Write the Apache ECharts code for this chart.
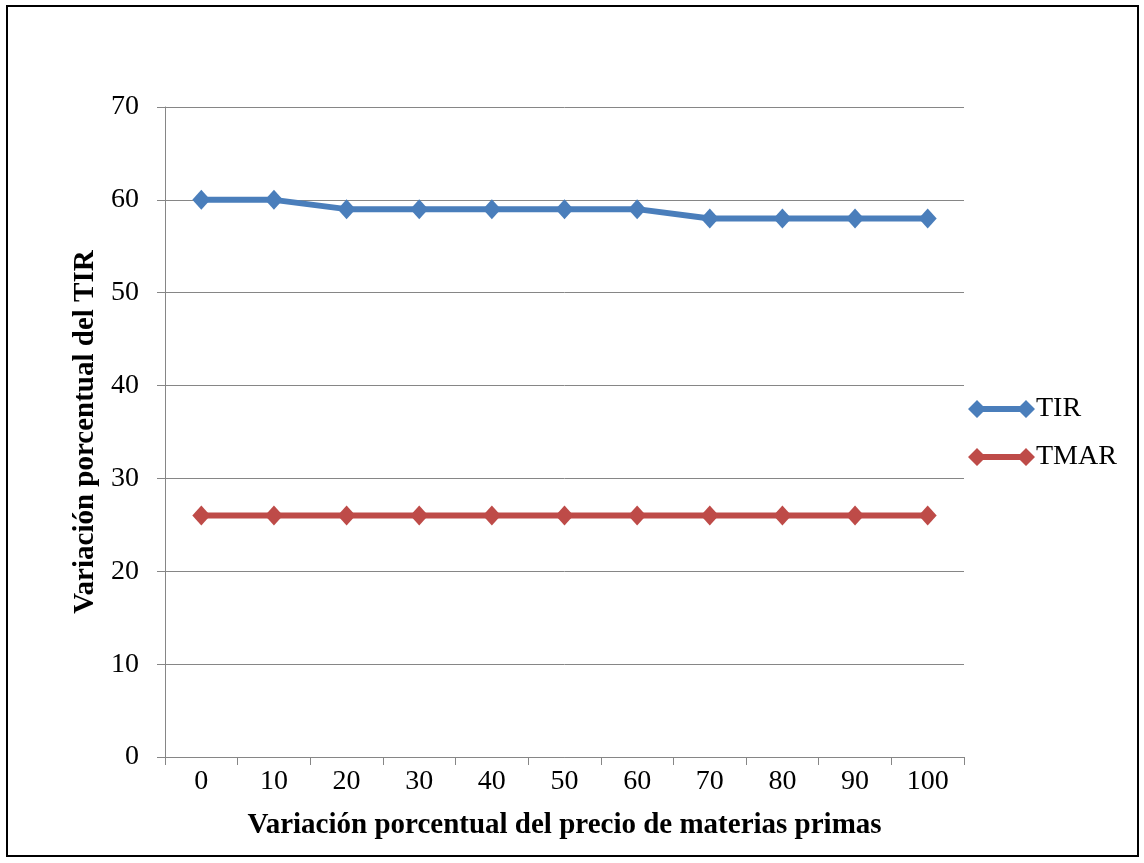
<!DOCTYPE html>
<html>
<head>
<meta charset="utf-8">
<script src="https://cdn.jsdelivr.net/npm/echarts@6/dist/echarts.min.js"></script>
<style>
  html, body { margin: 0; padding: 0; background: #fff; }
  #frame { position: absolute; left: 6px; top: 5px; width: 1133px; height: 852px; border: 2px solid #000; box-sizing: border-box; }
  #chart { position: absolute; left: 0; top: 0; width: 1144px; height: 863px; }
</style>
</head>
<body>
<div id="frame"></div>
<div id="chart"></div>
<script>
// Variación porcentual del precio de materias primas (%)
const categories = ['0', '10', '20', '30', '40', '50', '60', '70', '80', '90', '100'];
const tirValues  = [60, 60, 59, 59, 59, 59, 59, 58, 58, 58, 58];
const tmarValues = [26, 26, 26, 26, 26, 26, 26, 26, 26, 26, 26];

const FONT = '"Liberation Serif", "Times New Roman", serif';
// legend swatch: diamond – line – diamond
const legendIcon = 'path://M0,9L9,0L18,9L9,18Z M9,6H58V12H9Z M49,9L58,0L67,9L58,18Z';

const chart = echarts.init(document.getElementById('chart'), null, { renderer: 'canvas' });
chart.setOption({
  animation: false,
  backgroundColor: 'transparent',
  grid: { left: 165, right: 180, top: 107, bottom: 106, containLabel: false },
  legend: {
    orient: 'vertical',
    left: 968,
    top: 395,
    padding: 0,
    itemWidth: 67,
    itemHeight: 18,
    itemGap: 20,
    icon: legendIcon,
    textStyle: { fontFamily: FONT, fontSize: 28, lineHeight: 28, color: '#000', padding: [0, 0, 0, -4] },
    data: ['TIR', 'TMAR']
  },
  xAxis: {
    type: 'category',
    data: categories,
    boundaryGap: true,
    name: 'Variación porcentual del precio de materias primas',
    nameLocation: 'middle',
    nameGap: 54,
    nameTextStyle: { fontFamily: FONT, fontSize: 29, fontWeight: 'bold', color: '#000' },
    axisLine: { lineStyle: { color: '#868686', width: 1 } },
    axisTick: { show: true, length: 8, alignWithLabel: false, lineStyle: { color: '#868686' } },
    axisLabel: { fontFamily: FONT, fontSize: 28, color: '#000', margin: 11 },
    splitLine: { show: false }
  },
  yAxis: {
    type: 'value',
    min: 0,
    max: 70,
    interval: 10,
    name: 'Variación porcentual del TIR',
    nameLocation: 'middle',
    nameGap: 62,
    nameRotate: 90,
    nameTextStyle: { fontFamily: FONT, fontSize: 29, fontWeight: 'bold', color: '#000' },
    axisLine: { show: true, lineStyle: { color: '#868686', width: 1 } },
    axisTick: { show: true, length: 8, lineStyle: { color: '#868686' } },
    axisLabel: { fontFamily: FONT, fontSize: 28, color: '#000', margin: 26 },
    splitLine: { show: true, lineStyle: { color: '#868686', width: 1 } }
  },
  series: [
    {
      name: 'TIR',
      type: 'line',
      data: tirValues,
      symbol: 'diamond',
      symbolSize: [18, 20],
      color: '#4A7EBB',
      lineStyle: { width: 6, color: '#4A7EBB' },
      itemStyle: { color: '#4A7EBB' }
    },
    {
      name: 'TMAR',
      type: 'line',
      data: tmarValues,
      symbol: 'diamond',
      symbolSize: [18, 20],
      color: '#BE4B48',
      lineStyle: { width: 6, color: '#BE4B48' },
      itemStyle: { color: '#BE4B48' }
    }
  ]
});
</script>
</body>
</html>
